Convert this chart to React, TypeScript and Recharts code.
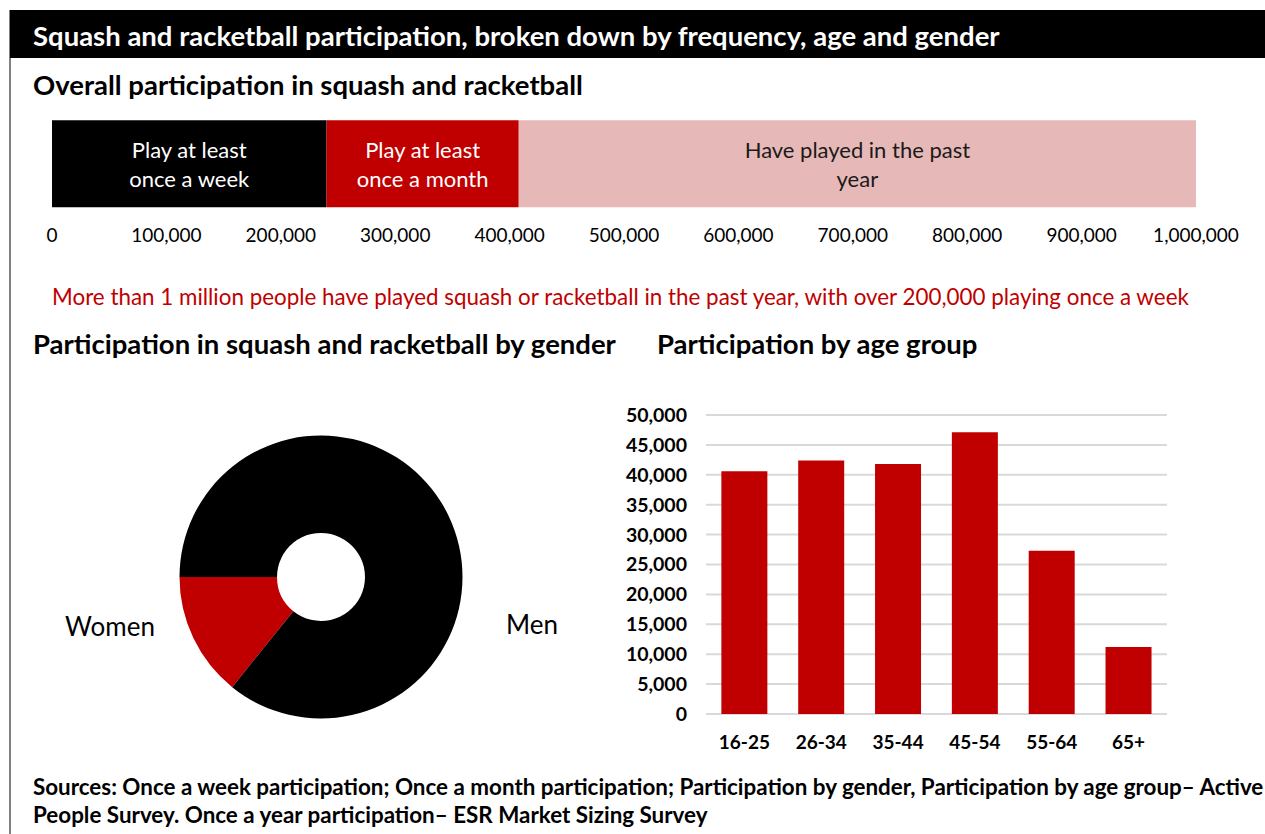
import React from 'react';
import { Bar, BarChart, CartesianGrid, Cell, LabelList, Pie, PieChart, XAxis, YAxis } from 'recharts';

const FONT = 'Lato, "Noto Sans", sans-serif';

// overall participation (stacked, people)
const frequencyKeys = ['week', 'month', 'year'];
const frequencyValues = [240000, 168000, 592000];
const frequencyLabels = [
   ['Play at least', 'once a week'],
   ['Play at least', 'once a month'],
   ['Have played in the past', 'year'],
];
const frequencyColors = ['#000000', '#C00000', '#E6B8B7'];
const frequencyTextColors = ['#ffffff', '#ffffff', '#1a1a1a'];
const frequencyTicks = [0, 100000, 200000, 300000, 400000, 500000, 600000, 700000, 800000, 900000, 1000000];

// gender split (share, %)
const genderNames = ['Women', 'Men'];
const genderValues = [14.2, 85.8];
const genderColors = ['#C00000', '#000000'];

// age groups (people)
const ageGroups = ['16-25', '26-34', '35-44', '45-54', '55-64', '65+'];
const ageValues = [40600, 42400, 41800, 47100, 27300, 11200];
const ageTicks = [0, 5000, 10000, 15000, 20000, 25000, 30000, 35000, 40000, 45000, 50000];

const fmt = (v: number) => v.toLocaleString('en-US');

const frequencyRow: Record<string, string | number> = { name: 'all' };
frequencyKeys.forEach((k, i) => (frequencyRow[k] = frequencyValues[i]));

const genderData = genderNames.map((name, i) => ({ name, value: genderValues[i] }));
const ageData = ageGroups.map((group, i) => ({ group, value: ageValues[i] }));

const heading: React.CSSProperties = {
   position: 'absolute',
   fontFamily: FONT,
   fontWeight: 700,
   fontSize: 27.5,
   color: '#000',
   whiteSpace: 'nowrap',
   lineHeight: 1,
};

const makeBarLabel = (i: number) => (props: any) => {
   const { x, y, width, height } = props;
   const cx = x + width / 2;
   const cy = y + height / 2;
   return (
      <text x={cx} textAnchor="middle" fill={frequencyTextColors[i]} fontSize={22} fontFamily={FONT}>
         <tspan x={cx} y={cy - 6}>{frequencyLabels[i][0]}</tspan>
         <tspan x={cx} y={cy + 23}>{frequencyLabels[i][1]}</tspan>
      </text>
   );
};

const genderLabel = (props: any) => {
   const { cx, cy, name } = props;
   const left = name === 'Women';
   return (
      <text x={cx + (left ? -211 : 211)} y={cy + (left ? 59 : 57)} textAnchor="middle" fill="#000" fontSize={26} fontFamily={FONT}>
         {name}
      </text>
   );
};

const App: React.FC = () => {
   return (
      <div style={{ position: 'absolute', left: 0, top: 0, width: 1265, height: 834, background: '#fff', overflow: 'hidden' }}>
         <div style={{ position: 'absolute', left: 9, top: 10, width: 2, height: 824, background: '#808080' }} />
         <div style={{ position: 'absolute', left: 10, top: 10, width: 1255, height: 48, background: '#000' }} />
         <div style={{ ...heading, left: 33, top: 22, color: '#fff' }}>
            Squash and racketball participation, broken down by frequency, age and gender
         </div>
         <div style={{ ...heading, left: 33, top: 71 }}>Overall participation in squash and racketball</div>

         <div style={{ position: 'absolute', left: 0, top: 110 }}>
            <BarChart
               width={1265}
               height={146.8}
               data={[frequencyRow]}
               layout="vertical"
               margin={{ top: 5.2, right: 69, bottom: 5, left: 52 }}
               barSize={87}
            >
               <XAxis
                  type="number"
                  domain={[0, 1000000]}
                  ticks={frequencyTicks}
                  tickFormatter={fmt}
                  axisLine={false}
                  tickLine={false}
                  tickMargin={10.7}
                  height={40}
                  interval={0}
                  tick={{ fontSize: 19, fill: '#000', fontFamily: FONT }}
               />
               <YAxis type="category" dataKey="name" hide width={0} />
               {frequencyKeys.map((k, i) => (
                  <Bar key={k} dataKey={k} stackId="a" fill={frequencyColors[i]} isAnimationActive={false}>
                     <LabelList dataKey={k} content={makeBarLabel(i)} />
                  </Bar>
               ))}
            </BarChart>
         </div>

         <div
            style={{
               position: 'absolute',
               left: 52,
               top: 286,
               fontFamily: FONT,
               fontSize: 22.4,
               color: '#C00000',
               whiteSpace: 'nowrap',
               lineHeight: 1,
            }}
         >
            More than 1 million people have played squash or racketball in the past year, with over 200,000 playing once a week
         </div>

         <div style={{ ...heading, left: 33, top: 330 }}>Participation in squash and racketball by gender</div>
         <div style={{ ...heading, left: 657, top: 330 }}>Participation by age group</div>

         <div style={{ position: 'absolute', left: 0, top: 380 }}>
            <PieChart width={600} height={400} margin={{ top: 0, right: 0, bottom: 0, left: 0 }}>
               <Pie
                  data={genderData}
                  dataKey="value"
                  nameKey="name"
                  cx={321}
                  cy={197}
                  innerRadius={44}
                  outerRadius={141.5}
                  startAngle={180}
                  endAngle={540}
                  stroke="none"
                  label={genderLabel}
                  labelLine={false}
                  isAnimationActive={false}
               >
                  {genderData.map((d, i) => (
                     <Cell key={d.name} fill={genderColors[i]} />
                  ))}
               </Pie>
            </PieChart>
         </div>

         <div style={{ position: 'absolute', left: 600, top: 390 }}>
            <BarChart width={640} height={370} data={ageData} margin={{ top: 25, right: 73, bottom: 6, left: 0 }} barCategoryGap="20%">
               <CartesianGrid vertical={false} stroke="#d9d9d9" strokeWidth={2} />
               <XAxis
                  dataKey="group"
                  axisLine={false}
                  tickLine={false}
                  tickMargin={15.5}
                  height={40}
                  interval={0}
                  tick={{ fontSize: 19, fill: '#000', fontWeight: 700, fontFamily: FONT }}
               />
               <YAxis
                  domain={[0, 50000]}
                  ticks={ageTicks}
                  tickFormatter={fmt}
                  axisLine={false}
                  tickLine={false}
                  tickMargin={13}
                  width={106}
                  interval={0}
                  tick={{ fontSize: 19.5, fill: '#000', fontWeight: 700, fontFamily: FONT }}
               />
               <Bar dataKey="value" fill="#C00000" isAnimationActive={false} />
            </BarChart>
         </div>

         <div
            style={{
               position: 'absolute',
               left: 33,
               top: 773,
               fontFamily: FONT,
               fontWeight: 700,
               fontSize: 22.4,
               color: '#000',
               whiteSpace: 'nowrap',
               lineHeight: '28px',
            }}
         >
            Sources: Once a week participation; Once a month participation; Participation by gender, Participation by age group– Active
            <br />
            People Survey. Once a year participation– ESR Market Sizing Survey
         </div>
      </div>
   );
};

export default App;
